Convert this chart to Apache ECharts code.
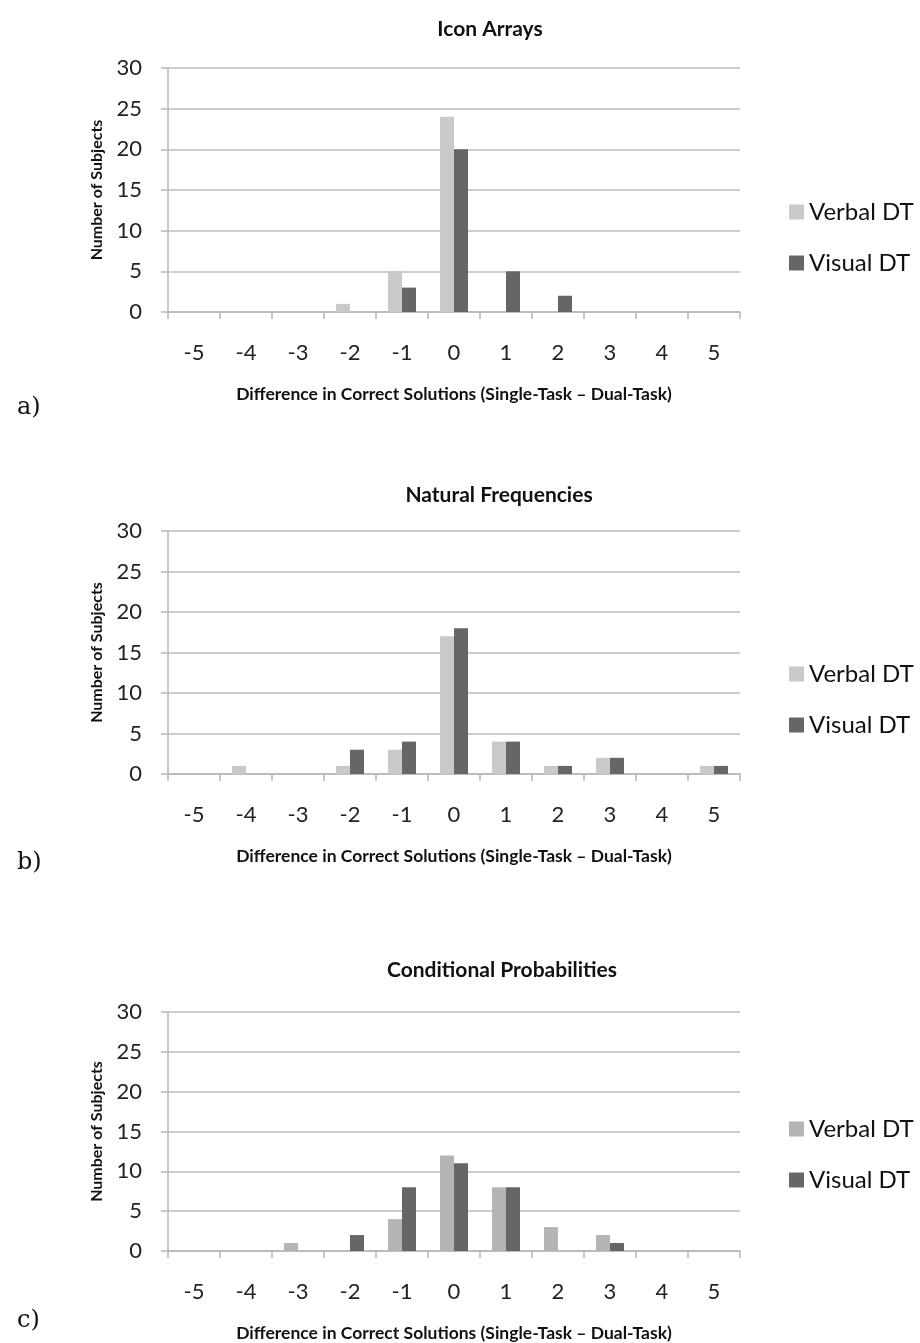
<!DOCTYPE html>
<html>
<head>
<meta charset="utf-8">
<script src="https://cdn.jsdelivr.net/npm/echarts@6/dist/echarts.min.js"></script>
<style>
  html, body { margin: 0; padding: 0; background: #ffffff; }
  #chart { width: 920px; height: 1343px; }
</style>
</head>
<body>
<div id="chart"></div>
<script>
// Difference in correct solutions (single-task minus dual-task)
const categories = ['-5', '-4', '-3', '-2', '-1', '0', '1', '2', '3', '4', '5'];
const yTicks = [0, 5, 10, 15, 20, 25, 30];

const panelTitles = ['Icon Arrays', 'Natural Frequencies', 'Conditional Probabilities'];
const panelLetters = ['a)', 'b)', 'c)'];
const seriesNames = ['Verbal DT', 'Visual DT'];

// Number of subjects per difference value
const iconVerbal = [0, 0, 0, 1, 5, 24, 0, 0, 0, 0, 0];
const iconVisual = [0, 0, 0, 0, 3, 20, 5, 2, 0, 0, 0];

const natVerbal = [0, 1, 0, 1, 3, 17, 4, 1, 2, 0, 1];
const natVisual = [0, 0, 0, 3, 4, 18, 4, 1, 2, 0, 1];

const condVerbal = [0, 0, 1, 0, 4, 12, 8, 3, 2, 0, 0];
const condVisual = [0, 0, 0, 2, 8, 11, 8, 0, 1, 0, 0];

const panelData = [
  [iconVerbal, iconVisual],
  [natVerbal, natVisual],
  [condVerbal, condVisual]
];

const verbalColors = ['#c9c9c9', '#c9c9c9', '#b4b4b4'];
const visualColor = '#666666';

const FONT = "Lato, 'Open Sans', sans-serif";
const SERIF = "'DejaVu Serif', 'Liberation Serif', serif";

// panel layout: top of plot, plot height, title centre/y, letter y, legend y
const layout = [
  { top: 68,   height: 244, titleX: 485, titleTop: 14,  letterTop: 391,  legendTop: 195 },
  { top: 531,  height: 243, titleX: 494, titleTop: 480, letterTop: 846,  legendTop: 657 },
  { top: 1012, height: 244, titleX: 497, titleTop: 955, letterTop: 1304, legendTop: 1112 }
];

const PLOT_LEFT = 168;
const PLOT_WIDTH = 572;

const grids = [], xAxes = [], yAxes = [], series = [], titles = [], legends = [];

layout.forEach((L, i) => {
  grids.push({ left: PLOT_LEFT, top: L.top, width: PLOT_WIDTH, height: L.height, containLabel: false });

  xAxes.push({
    type: 'category',
    gridIndex: i,
    data: categories,
    boundaryGap: true,
    axisLine: { show: true, lineStyle: { color: '#b7b7b7', width: 1.5 } },
    axisTick: { show: true, length: 7, lineStyle: { color: '#b7b7b7', width: 1.5 } },
    axisLabel: { color: '#222', fontSize: 22, fontFamily: FONT, margin: 30 },
    name: 'Difference in Correct Solutions (Single-Task \u2013 Dual-Task)',
    nameLocation: 'middle',
    nameGap: 73,
    nameTextStyle: { color: '#111', fontSize: 17.5, fontWeight: 'bold', fontFamily: FONT }
  });

  yAxes.push({
    type: 'value',
    gridIndex: i,
    min: yTicks[0],
    max: yTicks[yTicks.length - 1],
    interval: yTicks[1] - yTicks[0],
    axisLine: { show: true, lineStyle: { color: '#b7b7b7', width: 1.5 } },
    axisTick: { show: true, length: 7, lineStyle: { color: '#b7b7b7', width: 1.5 } },
    splitLine: { show: true, lineStyle: { color: '#bdbdbd', width: 1.5 } },
    axisLabel: { color: '#222', fontSize: 22, fontFamily: FONT, margin: 26 },
    name: 'Number of Subjects',
    nameLocation: 'middle',
    nameRotate: 90,
    nameGap: 63,
    nameTextStyle: { color: '#111', fontSize: 16, fontWeight: 'bold', fontFamily: FONT }
  });

  const colors = [verbalColors[i], visualColor];
  seriesNames.forEach((name, k) => {
    series.push({
      name: name,
      type: 'bar',
      xAxisIndex: i,
      yAxisIndex: i,
      data: panelData[i][k],
      barWidth: 14,
      barGap: '0%',
      itemStyle: { color: colors[k] },
      silent: true
    });
  });

  titles.push({
    text: panelTitles[i],
    left: L.titleX,
    textAlign: 'center',
    top: L.titleTop,
    textStyle: { color: '#111', fontSize: 21, fontWeight: 'bold', fontFamily: FONT }
  });
  titles.push({
    text: panelLetters[i],
    left: 12,
    top: L.letterTop,
    textStyle: { color: '#111', fontSize: 24, fontWeight: 'normal', fontFamily: SERIF }
  });

  legends.push({
    orient: 'vertical',
    left: 784,
    top: L.legendTop,
    itemWidth: 15,
    itemHeight: 15,
    itemGap: 27,
    icon: 'rect',
    selectedMode: false,
    textStyle: { color: '#111', fontSize: 24, fontFamily: FONT },
    data: [
      { name: seriesNames[0], itemStyle: { color: verbalColors[i] } },
      { name: seriesNames[1], itemStyle: { color: visualColor } }
    ]
  });
});

const chart = echarts.init(document.getElementById('chart'), null, { renderer: 'canvas' });
chart.setOption({
  animation: false,
  backgroundColor: '#ffffff',
  title: titles,
  legend: legends,
  grid: grids,
  xAxis: xAxes,
  yAxis: yAxes,
  series: series
});
</script>
</body>
</html>
